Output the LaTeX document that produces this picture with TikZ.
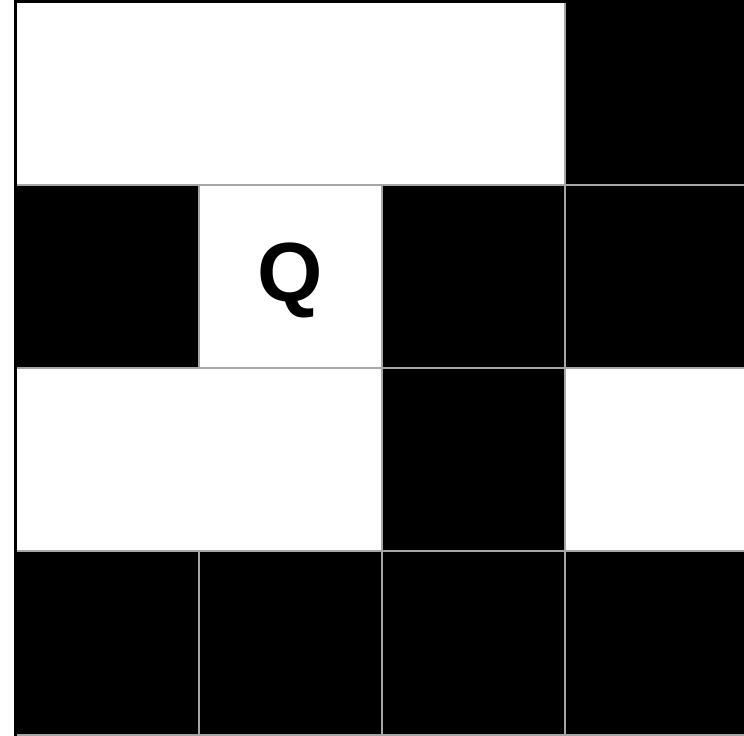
\documentclass[tikz,border=0pt]{standalone}
\usepackage{fontspec}
\setmainfont{Liberation Sans}
\begin{document}
\begin{tikzpicture}[x=0.5pt,y=-0.5pt,
  cellline/.style={draw=black!35,line width=1pt},
  blackcell/.style={fill=black,cellline}]
\useasboundingbox (0,0) rectangle (744,735);
\clip (0,0) rectangle (744,735);
% black squares, column/row
\foreach \c/\r in {3/0,0/1,2/1,3/1,2/2,0/3,1/3,2/3,3/3}
  \draw[blackcell] ({15.5+\c*183.3},{1.5+\r*183.3}) rectangle ++(183.3,183.3);
% start square
\node (qcell) [cellline,minimum size=91.65pt,inner sep=0pt]
  at ({15.5+1.5*183.3},{1.5+1.5*183.3}) {};
\node (qmark) [font=\fontsize{42}{42}\selectfont\bfseries,yshift=-2pt]
  at (qcell.center) {Q};
% frame
\draw[line width=1.2pt] (760,1.5) -- (15.5,1.5) -- (15.5,740);
\end{tikzpicture}
\end{document}
